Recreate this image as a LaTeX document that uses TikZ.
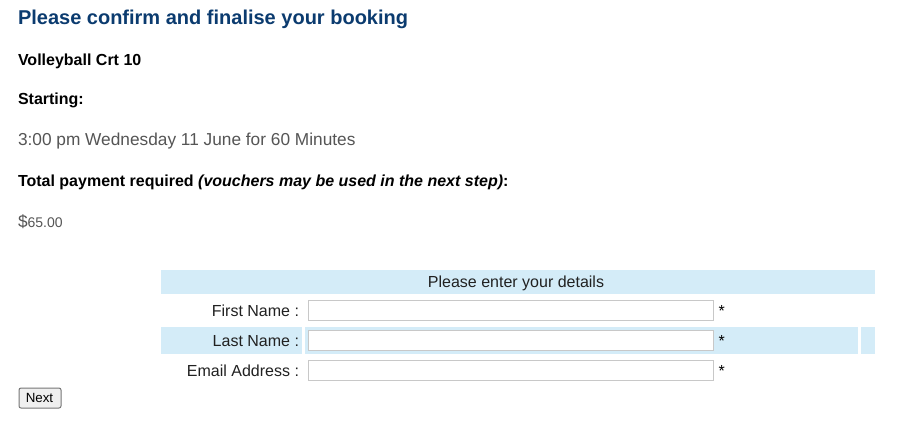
\documentclass[tikz,border=0pt]{standalone}
\usepackage{fontspec}
\setmainfont{Liberation Sans}
\definecolor{titleblue}{HTML}{0B3B6F}
\definecolor{rowblue}{HTML}{D4ECF8}
\definecolor{graytext}{HTML}{555555}
\definecolor{inputborder}{HTML}{C8C8C8}
\definecolor{btnfill}{HTML}{EFEFEF}
\definecolor{btnborder}{HTML}{767676}
\newcommand{\px}[1]{\fontsize{#1}{#1}\selectfont}
\begin{document}
\begin{tikzpicture}[x=0.75pt,y=-0.75pt,
  txt/.style={inner sep=0pt, outer sep=0pt, anchor=base west},
  lbl/.style={inner sep=0pt, outer sep=0pt, anchor=base east, font=\px{12pt}, text=black!87},
  star/.style={inner sep=0pt, outer sep=0pt, anchor=base west, font=\px{12pt}},
  inputbox/.style={draw=inputborder, fill=white, line width=0.75pt, inner sep=0pt, outer sep=0pt,
    minimum width=303.75pt, minimum height=15pt, anchor=north west},
  rowbg/.style={fill=rowblue, draw=none}]
\useasboundingbox (0,0) rectangle (917,428);
\fill[white] (0,0) rectangle (917,428);

% heading and booking details
\node[txt, font=\bfseries\px{15pt}, text=titleblue] (title) at (18,25) {Please confirm and finalise your booking};
\node[txt, font=\bfseries\px{12pt}] (court) at (18,65) {Volleyball Crt 10};
\node[txt, font=\bfseries\px{12pt}] (starting) at (18,104) {Starting:};
\node[txt, font=\px{12.96pt}, text=graytext] (when) at (18,145) {3:00 pm Wednesday 11 June for 60 Minutes};
\node[txt, font=\bfseries\px{12pt}] (total) at (18,186) {Total payment required \textit{(vouchers may be used in the next step)}:};
\node[txt, text=graytext] (price) at (18,227) {{\px{12.96pt}\$}{\px{10.5pt}65.00}};

% details table
\fill[rowbg] (161,270) rectangle (875,294);
\node[inner sep=0pt, anchor=base, font=\px{12pt}, text=black!87] (header) at (516,287) {Please enter your details};

\node[lbl] (fnlabel) at (299,316) {First Name :};
\node[inputbox] (fninput) at (308.5,300.5) {};
\node[star] (fnstar) at (718.5,316) {*};

\fill[rowbg] (161,327) rectangle (302,354);
\fill[rowbg] (305,327) rectangle (858,354);
\fill[rowbg] (861,327) rectangle (875,354);
\node[lbl] (lnlabel) at (299,346) {Last Name :};
\node[inputbox] (lninput) at (308.5,330.5) {};
\node[star] (lnstar) at (718.5,346) {*};

\node[lbl] (emlabel) at (299,376) {Email Address :};
\node[inputbox] (eminput) at (308.5,360.5) {};
\node[star] (emstar) at (718.5,376) {*};

% Next button
\node[draw=btnborder, fill=btnfill, line width=0.75pt, rounded corners=1.5pt, inner sep=0pt,
  minimum width=31.5pt, minimum height=15pt, anchor=north west] (nextbtn) at (18.5,387.5) {};
\node[inner sep=0pt, anchor=base, font=\px{10pt}] (next) at (39.5,402) {Next};
\end{tikzpicture}
\end{document}
